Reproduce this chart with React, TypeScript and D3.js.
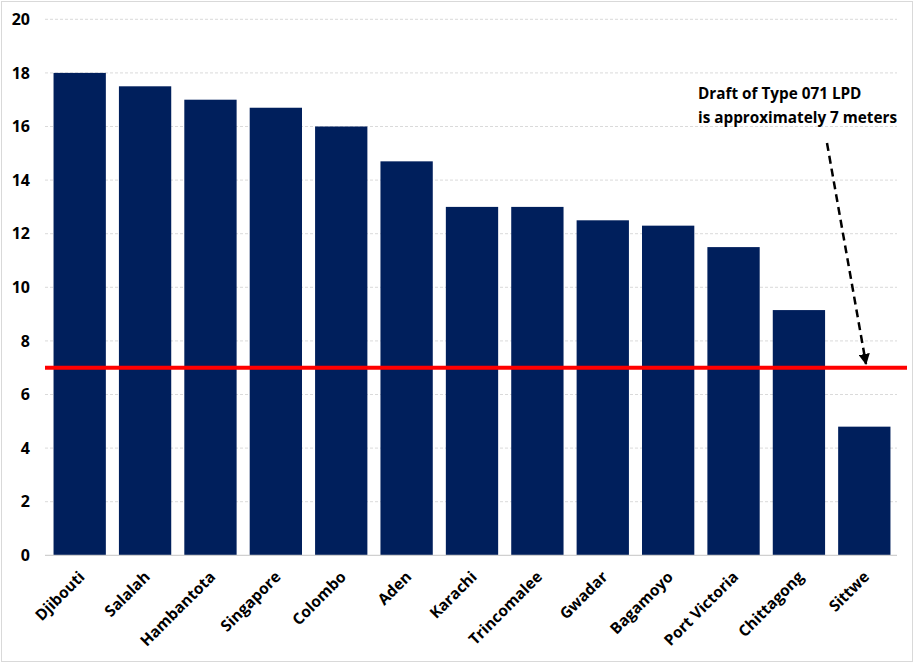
import React from "react";
import * as d3 from "d3";

const ports = ["Djibouti", "Salalah", "Hambantota", "Singapore", "Colombo", "Aden", "Karachi", "Trincomalee", "Gwadar", "Bagamoyo", "Port Victoria", "Chittagong", "Sittwe"];
const depths = [18, 17.5, 17, 16.7, 16, 14.7, 13, 13, 12.5, 12.3, 11.5, 9.15, 4.8];
const yTicks = [0, 2, 4, 6, 8, 10, 12, 14, 16, 18, 20];
const draftValue = 7;
const annotationLines = ["Draft of Type 071 LPD", "is approximately 7 meters"];

const W = 915;
const H = 664;
const FONT = "'Open Sans', 'Noto Sans', sans-serif";

export default function App() {
  const x = d3.scaleBand<string>().domain(ports).range([47, 897]).paddingInner(0.2).paddingOuter(0.1);
  const y = d3.scaleLinear().domain([0, 20]).range([555.3, 19.3]);
  const yd = y(draftValue);

  return (
    <svg width={W} height={H} style={{ position: "absolute", left: 0, top: 0, background: "#fff" }}>
      <defs>
        <marker id="arr" viewBox="0 0 10 10" refX="9" refY="5" markerWidth="4.5" markerHeight="4.5" orient="auto">
          <path d="M0,0 L10,5 L0,10 z" fill="#000" />
        </marker>
      </defs>
      <rect x={1.5} y={1.5} width={911} height={660} fill="#fff" stroke="#d9d9d9" />
      {yTicks.filter((t) => t > 0).map((t) => (
        <line key={t} x1={45} x2={897} y1={y(t)} y2={y(t)} stroke="#d0d0d0" strokeWidth={0.8} strokeDasharray="3,2" />
      ))}
      {ports.map((p, i) => (
        <rect key={p} x={x(p)} y={y(depths[i])} width={x.bandwidth()} height={y(0) - y(depths[i])} fill="#001f5c" />
      ))}
      <line x1={45} x2={897} y1={y(0)} y2={y(0)} stroke="#d0d0d0" strokeWidth={1.2} />
      {yTicks.map((t) => (
        <text key={t} x={30} y={y(t)} dy="0.36em" textAnchor="end" fontFamily={FONT} fontWeight={700} fontSize={16} fill="#000">
          {t}
        </text>
      ))}
      {ports.map((p) => {
        const cx = (x(p) as number) + x.bandwidth() / 2 + 2;
        const cy = 574;
        return (
          <text key={p} transform={`translate(${cx},${cy}) rotate(-45)`} textAnchor="end" fontFamily={FONT} fontWeight={700} fontSize={15.5} fill="#000" dy="0.35em">
            {p}
          </text>
        );
      })}
      <line x1={45} x2={907} y1={yd} y2={yd} stroke="#ff0000" strokeWidth={4} />
      {annotationLines.map((l, i) => (
        <text key={i} x={698} y={99 + i * 24} fontFamily={FONT} fontWeight={700} fontSize={15.3} fill="#000">
          {l}
        </text>
      ))}
      <line x1={827} y1={143} x2={866} y2={364} stroke="#000" strokeWidth={2.5} strokeDasharray="8,5" markerEnd="url(#arr)" />
    </svg>
  );
}
